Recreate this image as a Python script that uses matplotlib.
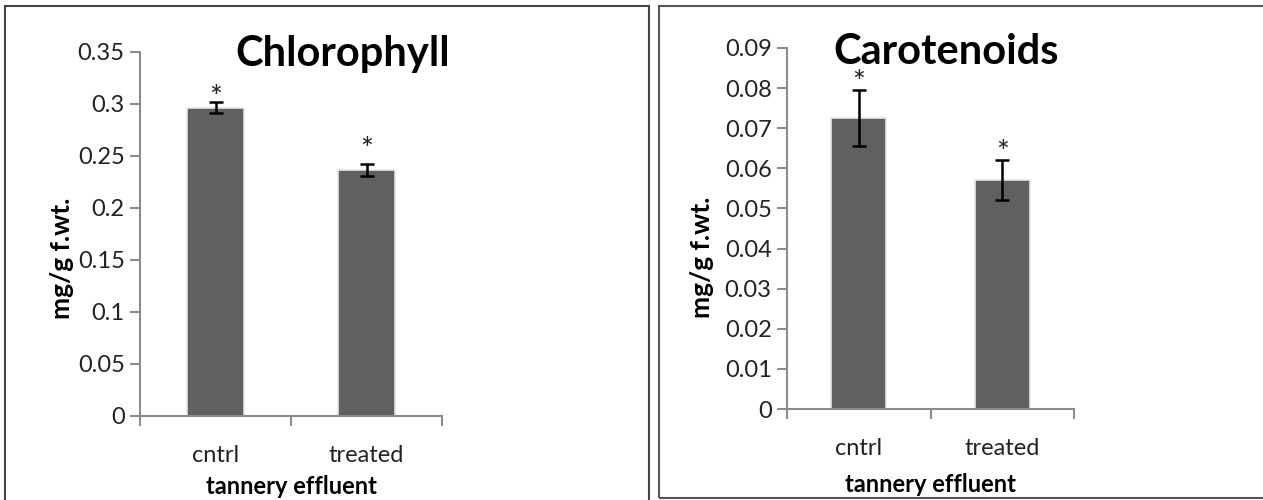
import matplotlib.pyplot as plt
from matplotlib.patches import Rectangle

plt.rcParams['font.family'] = ['Lato', 'DejaVu Sans']

categories = ['cntrl', 'treated']
chl_values = [0.2965, 0.2365]
chl_err = [0.0055, 0.0055]
chl_star_y = [0.306, 0.256]
car_values = [0.0725, 0.0570]
car_err = [0.0070, 0.0050]
car_star_y = [0.0813, 0.0638]
chl_ticks = [0, 0.05, 0.1, 0.15, 0.2, 0.25, 0.3, 0.35]
chl_tick_labels = ['0', '0.05', '0.1', '0.15', '0.2', '0.25', '0.3', '0.35']
car_ticks = [0, 0.01, 0.02, 0.03, 0.04, 0.05, 0.06, 0.07, 0.08, 0.09]
car_tick_labels = ['0', '0.01', '0.02', '0.03', '0.04', '0.05', '0.06', '0.07', '0.08', '0.09']

W, H = 1263, 500
fig = plt.figure(figsize=(12.63, 5), dpi=100)

# panel frames (pixel coords -> figure fractions)
def frame(x0, y0, x1, y1, color):
    fig.patches.append(Rectangle((x0 / W, 1 - y1 / H), (x1 - x0) / W, (y1 - y0) / H,
                                 transform=fig.transFigure, fill=False,
                                 edgecolor=color, linewidth=1.5))

frame(5, 6, 649, 520, '#444444')
frame(659, 6, 1290, 498, '#555555')


def panel(rect, vals, errs, stars, ticks, labels, top, title, title_xy,
          ylab_xy, xlab_y):
    ax = fig.add_axes(rect)
    x = range(len(categories))
    ax.bar(x, vals, width=0.38, color='#606060', edgecolor='#e6e6e6', linewidth=1.2)
    ax.errorbar(x, vals, yerr=errs, fmt='none', ecolor='black', elinewidth=1.8,
                capsize=5, capthick=1.8)
    for xi, sy in zip(x, stars):
        ax.text(xi, sy, '*', ha='center', va='center', fontsize=22, color='#222222')
    ax.set_xlim(-0.5, 1.5)
    ax.set_ylim(0, top)
    ax.set_yticks(ticks)
    ax.set_yticklabels(labels)
    ax.set_xticks(list(x))
    ax.set_xticklabels(categories)
    ax.set_xticks([-0.5, 0.5, 1.5], minor=True)
    for s in ['top', 'right']:
        ax.spines[s].set_visible(False)
    for s in ['left', 'bottom']:
        ax.spines[s].set_color('#8c8c8c')
        ax.spines[s].set_linewidth(1.5)
    ax.tick_params(axis='y', length=7, width=1.5, color='#8c8c8c', labelsize=17,
                   labelcolor='#222222', pad=4)
    ax.tick_params(axis='x', which='major', length=0, labelsize=17,
                   labelcolor='#222222', pad=21)
    ax.tick_params(axis='x', which='minor', length=7, width=1.5, color='#8c8c8c')
    ax.set_xlabel('tannery effluent', fontsize=17, fontweight='bold', va='center')
    ax.xaxis.set_label_coords(0.5, xlab_y)
    ax.set_ylabel('mg/g f.wt.', fontsize=19, fontweight='bold', va='center')
    ax.yaxis.set_label_coords(*ylab_xy)
    fig.text(title_xy[0] / W, 1 - title_xy[1] / H, title, fontsize=30,
             fontweight='bold', ha='center', va='center')
    return ax


panel([140 / W, 1 - 416 / H, 302 / W, 364 / H], chl_values, chl_err, chl_star_y,
      chl_ticks, chl_tick_labels, 0.35, 'Chlorophyll', (343, 54),
      (-0.258, 0.434), -0.195)
panel([787 / W, 1 - 409 / H, 287 / W, 361 / H], car_values, car_err, car_star_y,
      car_ticks, car_tick_labels, 0.09, 'Carotenoids', (946, 52),
      (-0.296, 0.421), -0.2105)

fig.savefig('out.png', dpi=100)
